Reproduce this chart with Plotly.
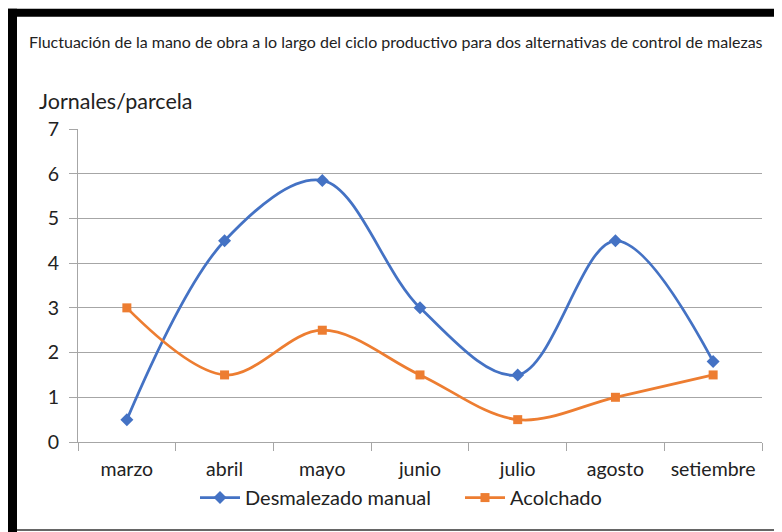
import plotly.graph_objects as go

categories = ["marzo", "abril", "mayo", "junio", "julio", "agosto", "setiembre"]
desmalezado = [0.5, 4.5, 5.85, 3.0, 1.5, 4.5, 1.8]
acolchado = [3.0, 1.5, 2.5, 1.5, 0.5, 1.0, 1.5]
y_ticks = [0, 1, 2, 3, 4, 5, 6, 7]

# page has an 8px body margin; work in page coordinates and shift
OFF = 8
W, H = 782 - OFF, 532 - OFF
PL, PR, PT, PB = 78, 762, 129.3, 442.4   # plot area in page pixels
L, R, T, B = PL - OFF, 782 - PR, PT - OFF, 532 - PB
pw, ph = PR - PL, PB - PT

def px(x):
    return (x - PL) / pw

def py(y):
    return (PB - y) / ph

FONT = "Lato"
BLUE = "#4472C4"
ORANGE = "#ED7D31"
TXT = "#222222"

fig = go.Figure()
fig.add_trace(go.Scatter(
    x=categories, y=desmalezado, name="Desmalezado manual",
    mode="lines+markers",
    line=dict(color=BLUE, width=2.75, shape="spline", smoothing=1.0),
    marker=dict(symbol="diamond", size=10, color=BLUE),
))
fig.add_trace(go.Scatter(
    x=categories, y=acolchado, name="Acolchado",
    mode="lines+markers",
    line=dict(color=ORANGE, width=2.75, shape="spline", smoothing=1.0),
    marker=dict(symbol="square", size=9, color=ORANGE),
))

fig.update_layout(
    width=W, height=H,
    margin=dict(l=L, r=R, t=T, b=B, autoexpand=False),
    paper_bgcolor="white", plot_bgcolor="white",
    font=dict(family=FONT, size=19, color=TXT),
    showlegend=True,
    legend=dict(orientation="h", x=px(195), xanchor="left",
                y=py(498), yanchor="middle",
                font=dict(family=FONT, size=20, color=TXT),
                itemwidth=40, entrywidth=210, entrywidthmode="pixels",
                bgcolor="rgba(0,0,0,0)"),
    xaxis=dict(
        type="category", range=[-0.5, 6.5],
        tickson="boundaries", ticks="outside", ticklen=8,
        tickcolor="#A6A6A6", showgrid=False,
        showline=True, linecolor="#A6A6A6", linewidth=1,
        tickfont=dict(family=FONT, size=19.5, color=TXT),
        ticklabelstandoff=10,
        fixedrange=True,
    ),
    yaxis=dict(
        range=[0, 7], tickvals=y_ticks,
        ticks="outside", ticklen=8, tickcolor="#A6A6A6",
        showgrid=True, gridcolor="#A6A6A6", gridwidth=1,
        showline=True, linecolor="#A6A6A6", linewidth=1,
        zeroline=False,
        tickfont=dict(family=FONT, size=19.5, color=TXT),
        ticklabelstandoff=6,
        fixedrange=True,
    ),
    annotations=[
        dict(text="Fluctuación de la mano de obra a lo largo del ciclo productivo para dos alternativas de control de malezas",
             xref="paper", yref="paper", x=px(27), y=py(42),
             xanchor="left", yanchor="middle", showarrow=False,
             font=dict(family=FONT, size=16, color=TXT)),
        dict(text="Jornales/parcela",
             xref="paper", yref="paper", x=px(37), y=py(101),
             xanchor="left", yanchor="middle", showarrow=False,
             font=dict(family=FONT, size=21.5, color=TXT)),
    ],
    shapes=[
        dict(type="rect", xref="paper", yref="paper",
             x0=px(8), x1=px(17), y0=py(540), y1=py(9),
             fillcolor="black", line=dict(width=0), layer="above"),
        dict(type="rect", xref="paper", yref="paper",
             x0=px(8), x1=px(790), y0=py(17), y1=py(9),
             fillcolor="black", line=dict(width=0), layer="above"),
        dict(type="line", xref="paper", yref="paper",
             x0=px(17), x1=px(790), y0=py(530.5), y1=py(530.5),
             line=dict(color="#333333", width=1.5), layer="above"),
    ],
)

fig.write_html("out.html")
